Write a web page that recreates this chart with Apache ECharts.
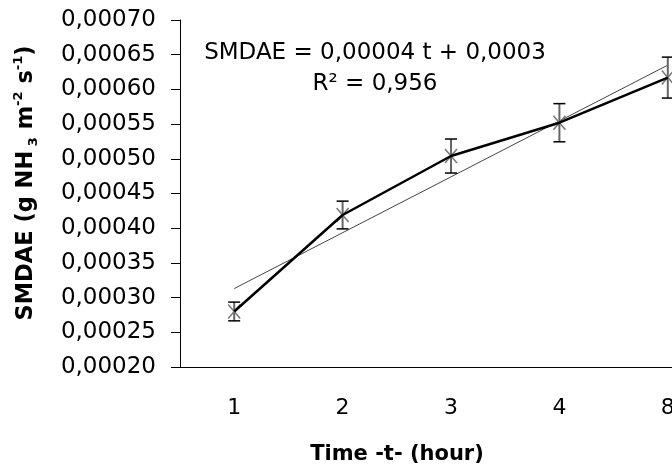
<!DOCTYPE html>
<html><head><meta charset="utf-8">
<script src="https://cdn.jsdelivr.net/npm/echarts@6/dist/echarts.min.js"></script>
<style>html,body{margin:0;padding:0;background:#fff;overflow:hidden;width:672px;height:466px}#c{width:722px;height:466px}</style>
</head><body><div id="c"></div>
<script>
const categories = ['1', '2', '3', '4', '8'];
const smdae = [0.000280, 0.000419, 0.000504, 0.000552, 0.000617];
const errors = [0.0000135, 0.0000200, 0.0000245, 0.0000275, 0.0000295];
const trend = [0.000313, null, null, null, 0.000635];
const yTicks = { min: 0.0002, max: 0.0007, interval: 0.00005 };

const FONT = 'DejaVu Sans';
const chart = echarts.init(document.getElementById('c'));
const errData = categories.map((c, i) => [i, smdae[i], smdae[i] - errors[i], smdae[i] + errors[i]]);

chart.setOption({
  backgroundColor: '#fff',
  animation: false,
  grid: { left: 180, top: 20, bottom: 99, right: 0 },
  xAxis: {
    type: 'category', data: categories, boundaryGap: true,
    axisLine: { lineStyle: { color: '#000', width: 1 } },
    axisTick: { length: 8, lineStyle: { color: '#000' } },
    axisLabel: { fontFamily: FONT, fontSize: 22, color: '#000', margin: 30 },
    splitLine: { show: false }
  },
  yAxis: {
    type: 'value', min: yTicks.min, max: yTicks.max, interval: yTicks.interval,
    axisLine: { show: true, lineStyle: { color: '#000', width: 1 } },
    axisTick: { show: true, length: 9, lineStyle: { color: '#000' } },
    axisLabel: { fontFamily: FONT, fontSize: 23, color: '#000', margin: 24,
      formatter: v => v.toFixed(5).replace('.', ',') },
    splitLine: { show: false }
  },
  graphic: [
    { type: 'text', x: 26, y: 183, rotation: Math.PI / 2,
      style: {
        text: '{b|SMDAE (g NH}{s| 3}{b| m}{p|-2}{b| s}{p|-1}{b|)}',
        align: 'center', verticalAlign: 'middle',
        rich: {
          b: { fontFamily: FONT, fontSize: 22.5, fontWeight: 'bold', fill: '#000', lineHeight: 28 },
          s: { fontFamily: FONT, fontSize: 13, fontWeight: 'bold', fill: '#000', verticalAlign: 'bottom', lineHeight: 28 },
          p: { fontFamily: FONT, fontSize: 13, fontWeight: 'bold', fill: '#000', verticalAlign: 'top', lineHeight: 28 }
        }
      } },
    { type: 'text', x: 397, y: 455, style: { text: 'Time -t- (hour)', font: 'bold 21px "DejaVu Sans"', fill: '#000', align: 'center', verticalAlign: 'middle' } },
    { type: 'text', x: 375, y: 53, style: { text: 'SMDAE = 0,00004 t + 0,0003', font: '23px "DejaVu Sans"', fill: '#000', align: 'center', verticalAlign: 'middle' } },
    { type: 'text', x: 375, y: 84, style: { text: 'R² = 0,956', font: '23px "DejaVu Sans"', fill: '#000', align: 'center', verticalAlign: 'middle' } }
  ],
  series: [
    {
      type: 'line', data: trend, connectNulls: true, showSymbol: false, symbol: 'none',
      lineStyle: { color: '#444', width: 1 }, z: 2, silent: true
    },
    {
      type: 'custom', z: 3, data: errData,
      renderItem: function (params, api) {
        const p = api.coord([api.value(0), api.value(1)]);
        const lo = api.coord([api.value(0), api.value(2)]);
        const hi = api.coord([api.value(0), api.value(3)]);
        const x = p[0], cw = 6, mw = 6, mh = 7;
        return {
          type: 'group', children: [
            { type: 'line', shape: { x1: x, y1: hi[1], x2: x, y2: lo[1] }, style: { stroke: '#666', lineWidth: 2 } },
            { type: 'line', shape: { x1: x - cw, y1: hi[1], x2: x + cw, y2: hi[1] }, style: { stroke: '#000', lineWidth: 1.5 } },
            { type: 'line', shape: { x1: x - cw, y1: lo[1], x2: x + cw, y2: lo[1] }, style: { stroke: '#000', lineWidth: 1.5 } },
            { type: 'line', shape: { x1: x - mw, y1: p[1] - mh, x2: x + mw, y2: p[1] + mh }, style: { stroke: '#777', lineWidth: 1.5 } },
            { type: 'line', shape: { x1: x - mw, y1: p[1] + mh, x2: x + mw, y2: p[1] - mh }, style: { stroke: '#777', lineWidth: 1.5 } }
          ]
        };
      }
    },
    {
      type: 'line', data: smdae, symbol: 'none', showSymbol: false,
      lineStyle: { color: '#000', width: 2.5 }, z: 4
    }
  ]
});
</script></body></html>
